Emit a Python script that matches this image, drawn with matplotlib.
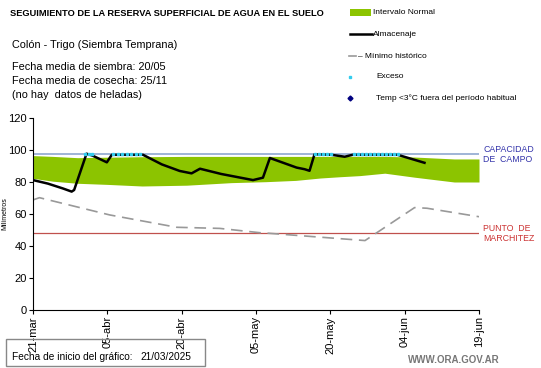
import matplotlib
matplotlib.use("Agg")
import matplotlib.pyplot as plt
import numpy as np

plt.rcParams['font.family'] = ['Liberation Sans', 'DejaVu Sans']

# days since 21-mar-2025
band_days = [0, 4, 9, 15, 22, 31, 40, 47, 53, 58, 62, 66, 71, 77, 81, 85, 90]
band_low = [82.3, 80.5, 79.2, 78.5, 77.5, 78, 79.6, 80.2, 81, 82.5, 83.3, 84, 85.5, 83, 81.5, 80, 80]
band_high = [96.5, 96, 95.2, 95.5, 95.8, 96, 96, 96, 96, 96, 96, 96, 96, 95.6, 95, 94.4, 94.4]

alm_days = [0, 3, 6, 7.8, 8.3, 10.8, 12, 14.9, 15.9, 22.2, 26, 29.6, 32, 33.7, 38, 44.4, 46.4, 47.8,
            53.2, 54.8, 55.8, 56.8, 60.2, 62.9, 64.5, 73.6, 79]
alm_vals = [81.2, 79, 76, 74, 75, 97.7, 96.5, 92.3, 97, 97, 91, 86.9, 85.4, 88.3, 85, 81.2, 82.7, 95,
            89, 88, 87, 97.3, 97, 95.8, 97, 97, 92]

min_days = [0, 1.3, 15.5, 29, 37.7, 45.8, 47.8, 67, 77, 79.5, 90]
min_vals = [68.8, 70.2, 59.4, 51.7, 51, 48.3, 47.9, 43.4, 64, 63.6, 58.3]

exceso_days = [10.5, 11.2, 11.9, 16.2, 17.1, 18, 18.9, 19.8, 20.7, 21.6,
               57, 57.8, 58.6, 59.4, 60.2, 64.8, 65.6, 66.4, 67.2, 68, 68.8, 69.6, 70.4, 71.2, 72, 72.8, 73.6]
exceso_level = 97.3

capacidad = 97.3
marchitez = 48
tick_days = [0, 15, 30, 45, 60, 75, 90]
tick_labels = ['21-mar', '05-abr', '20-abr', '05-may', '20-may', '04-jun', '19-jun']

fig = plt.figure(figsize=(5.41, 3.68), dpi=100)
ax = fig.add_axes([33 / 541, 1 - 310 / 368, (479 - 33) / 541, (310 - 118) / 368])

ax.fill_between(band_days, band_low, band_high, color='#8cc400', linewidth=0)
ax.axhline(capacidad, color='#8fa8d0', linewidth=1.2)
ax.axhline(marchitez, color='#c0504d', linewidth=0.9)
ax.plot(min_days, min_vals, color='#999999', linewidth=1.2, dashes=(7, 4))
ax.plot(alm_days, alm_vals, color='black', linewidth=1.8)
ax.plot(exceso_days, [exceso_level] * len(exceso_days), linestyle='none', marker='s',
        markersize=1.8, color='#33ccee')

ax.set_xlim(0, 90)
ax.set_ylim(0, 120)
ax.set_yticks(range(0, 121, 20))
ax.set_xticks(tick_days)
ax.set_xticklabels(tick_labels, rotation=90)
ax.tick_params(axis='both', labelsize=8, direction='out', length=3, width=0.8, pad=1.5)
for s in ['top', 'right']:
    ax.spines[s].set_visible(False)
ax.set_ylabel('Milímetros', fontsize=5)
ax.yaxis.set_label_coords(-0.055, 0.5)

ax.text(1.01, capacidad, 'CAPACIDAD\nDE  CAMPO', transform=ax.get_yaxis_transform(),
        fontsize=6.3, color='#3333aa', va='center', ha='left', linespacing=1.1)
ax.text(1.01, marchitez, 'PUNTO  DE\nMARCHITEZ', transform=ax.get_yaxis_transform(),
        fontsize=6.3, color='#cc3333', va='center', ha='left', linespacing=1.1)

# overlay for titles and legend in pixel coordinates
ov = fig.add_axes([0, 0, 1, 1], facecolor='none')
ov.set_xlim(0, 541)
ov.set_ylim(368, 0)
ov.axis('off')

ov.text(10, 14, 'SEGUIMIENTO DE LA RESERVA SUPERFICIAL DE AGUA EN EL SUELO',
        fontsize=6.7, fontweight='bold', va='center')
ov.text(12, 45, 'Colón - Trigo (Siembra Temprana)', fontsize=7.8, va='center')
ov.text(12, 67, 'Fecha media de siembra: 20/05', fontsize=7.8, va='center')
ov.text(12, 81, 'Fecha media de cosecha: 25/11', fontsize=7.8, va='center')
ov.text(12, 95, '(no hay  datos de heladas)', fontsize=7.8, va='center')

ov.add_patch(plt.Rectangle((350, 8.5), 21, 7, color='#8cc400', linewidth=0))
ov.text(373, 12, 'Intervalo Normal', fontsize=6, va='center')
ov.plot([350, 372], [34, 34], color='black', linewidth=1.8)
ov.text(373, 34, 'Almacenaje', fontsize=6, va='center')
ov.plot([349, 356], [56, 56], color='#999999', linewidth=1.2)
ov.text(358, 56, '– Mínimo histórico', fontsize=6, va='center')
ov.plot([350], [77], marker='s', markersize=2, color='#33ccee')
ov.text(376, 77, 'Exceso', fontsize=6, va='center')
ov.plot([350], [98], marker='D', markersize=2.5, color='#000080')
ov.text(376, 98, 'Temp <3°C fuera del período habitual', fontsize=6, va='center')

ov.add_patch(plt.Rectangle((6, 339), 199, 27, fill=False, edgecolor='#888888', linewidth=1))
ov.text(12, 357, 'Fecha de inicio del gráfico:', fontsize=7.3, va='center')
ov.text(140, 357, '21/03/2025', fontsize=7.3, va='center')
ov.text(500, 360, 'WWW.ORA.GOV.AR', fontsize=7, color='#777777', fontweight='bold', va='center', ha='right')

fig.savefig('out.png', dpi=100)
